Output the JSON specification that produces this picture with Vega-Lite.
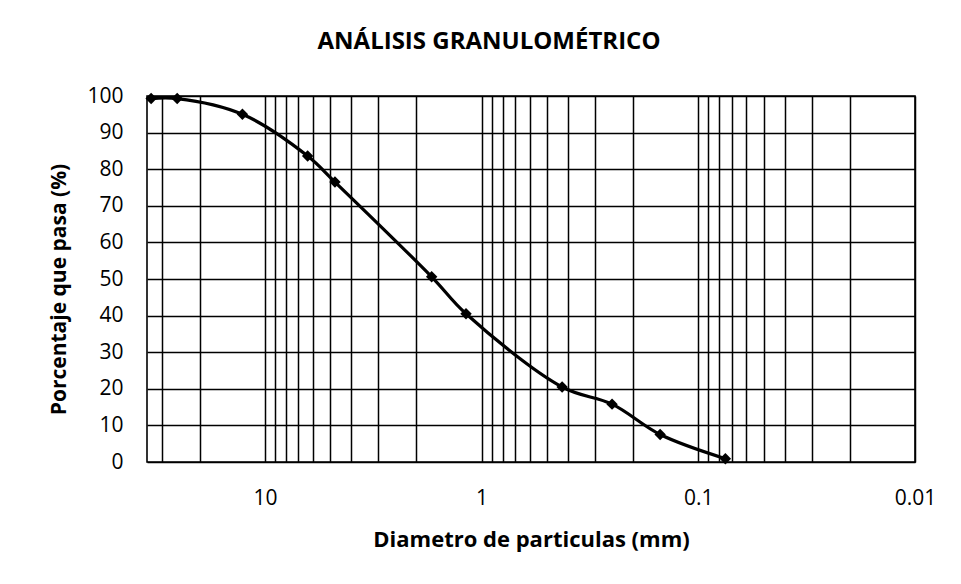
{
  "$schema": "https://vega.github.io/schema/vega-lite/v6.json",
  "width": 768,
  "height": 366,
  "autosize": "none",
  "padding": {"left": 147, "top": 96, "right": 46, "bottom": 122},
  "background": "white",
  "config": {
    "font": "Open Sans",
    "view": {"stroke": "black", "strokeWidth": 1.6}
  },
  "title": {
    "text": "ANÁLISIS GRANULOMÉTRICO",
    "font": "Open Sans",
    "fontSize": 24,
    "fontWeight": "bold",
    "color": "black",
    "anchor": "middle",
    "frame": "group",
    "dx": -42,
    "offset": 31
  },
  "data": {
    "values": [
      {"diametro": 33.5, "pasa": 99.3},
      {"diametro": 25.4, "pasa": 99.3},
      {"diametro": 12.7, "pasa": 95.0},
      {"diametro": 6.35, "pasa": 83.6},
      {"diametro": 4.75, "pasa": 76.5},
      {"diametro": 1.70, "pasa": 50.6},
      {"diametro": 1.18, "pasa": 40.5},
      {"diametro": 0.425, "pasa": 20.5},
      {"diametro": 0.25, "pasa": 15.8},
      {"diametro": 0.15, "pasa": 7.5},
      {"diametro": 0.075, "pasa": 0.9}
    ]
  },
  "encoding": {
    "x": {
      "field": "diametro",
      "type": "quantitative",
      "scale": {"type": "log", "domain": [0.01, 35], "reverse": true, "nice": false},
      "axis": {
        "title": "Diametro de particulas (mm)",
        "titleFont": "Open Sans",
        "titleFontSize": 22,
        "titleFontWeight": "bold",
        "titleColor": "black",
        "titlePadding": 21,
        "values": [30, 20, 10, 9, 8, 7, 6, 5, 4, 3, 2, 1, 0.9, 0.8, 0.7, 0.6, 0.5, 0.4, 0.3, 0.2, 0.1, 0.09, 0.08, 0.07, 0.06, 0.05, 0.04, 0.03, 0.02, 0.01],
        "labelExpr": "(datum.value == 10 || datum.value == 1 || datum.value == 0.1 || datum.value == 0.01) ? format(datum.value, '~g') : ''",
        "labelOverlap": false,
        "labelFlush": false,
        "labelFont": "Open Sans",
        "labelFontSize": 21,
        "labelColor": "black",
        "labelPadding": 25,
        "ticks": false,
        "domain": false,
        "grid": true,
        "gridColor": "black",
        "gridWidth": 1.5,
        "gridOpacity": 1
      }
    },
    "y": {
      "field": "pasa",
      "type": "quantitative",
      "scale": {"domain": [0, 100], "nice": false},
      "axis": {
        "title": "Porcentaje que pasa (%)",
        "titleFont": "Open Sans",
        "titleFontSize": 21,
        "titleFontWeight": "bold",
        "titleColor": "black",
        "titlePadding": 17,
        "titleY": 193,
        "values": [0, 10, 20, 30, 40, 50, 60, 70, 80, 90, 100],
        "labelFont": "Open Sans",
        "labelFontSize": 21,
        "labelColor": "black",
        "labelPadding": 24,
        "ticks": false,
        "domain": false,
        "grid": true,
        "gridColor": "black",
        "gridWidth": 1.5,
        "gridOpacity": 1
      }
    }
  },
  "layer": [
    {
      "mark": {"type": "line", "interpolate": "catmull-rom", "color": "black", "strokeWidth": 3.2}
    },
    {
      "mark": {"type": "point", "shape": "diamond", "filled": true, "color": "black", "size": 130, "opacity": 1}
    }
  ]
}
